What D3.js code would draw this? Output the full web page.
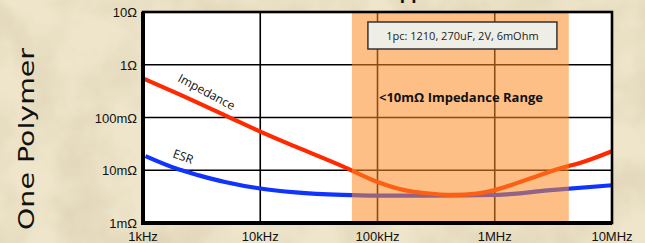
<!DOCTYPE html>
<html>
<head>
<meta charset="utf-8">
<script src="https://cdn.jsdelivr.net/npm/d3@7/dist/d3.min.js"></script>
<style>
  html, body { margin: 0; padding: 0; background: #ece2c7; }
  svg { display: block; }
</style>
</head>
<body>
<svg id="chart" width="645" height="243"></svg>
<script>
// frequencies (Hz) and values (Ohm)
const impFreq = [1e3, 2e3, 5e3, 1e4, 2e4, 5e4, 1e5, 1.7e5, 2.5e5, 4.4e5, 7e5, 1e6, 2e6, 3.3e6, 6e6, 1e7];
const impVals = [0.55, 0.28, 0.11, 0.054, 0.028, 0.012, 0.006, 0.0042, 0.0037, 0.0034, 0.0036, 0.0042, 0.007, 0.0102, 0.015, 0.023];
const esrFreq = [1.05e3, 2e3, 3e3, 5e3, 1e4, 2e4, 5e4, 1e5, 3e5, 1e6, 3e6, 1e7];
const esrVals = [0.0185, 0.0104, 0.008, 0.006, 0.0045, 0.0038, 0.0034, 0.0033, 0.0033, 0.0034, 0.0042, 0.0052];
const band = [6.05e4, 4.28e6];
const xTicks = [1e3, 1e4, 1e5, 1e6, 1e7];
const xTickLabels = ['1kHz', '10kHz', '100kHz', '1MHz', '10MHz'];
const yTicks = [1e-3, 1e-2, 1e-1, 1, 10];
const yTickLabels = ['1mΩ', '10mΩ', '100mΩ', '1Ω', '10Ω'];

const svg = d3.select('#chart');
const W = 645, H = 243;
const m = { left: 143, right: 33, top: 12, bottom: 20 };

// parchment background
const defs = svg.append('defs');
const f = defs.append('filter').attr('id', 'paper')
  .attr('x', 0).attr('y', 0).attr('width', '100%').attr('height', '100%');
f.append('feTurbulence').attr('type', 'fractalNoise')
  .attr('baseFrequency', 0.018).attr('numOctaves', 4).attr('seed', 7);
f.append('feColorMatrix').attr('type', 'matrix')
  .attr('values', '0 0 0 0 0.62  0 0 0 0 0.52  0 0 0 0 0.33  0 0 0 -1.6 1.05');
svg.append('rect').attr('width', W).attr('height', H).attr('fill', '#eee5cb');
svg.append('rect').attr('width', W).attr('height', H)
  .attr('filter', 'url(#paper)').attr('opacity', 0.5);

const x = d3.scaleLog().domain([1e3, 1e7]).range([m.left, W - m.right]);
const y = d3.scaleLog().domain([1e-3, 10]).range([H - m.bottom, m.top]);

// title, cut off by the top edge in the original
svg.append('text')
  .attr('x', 386).attr('y', -1)
  .attr('font-family', 'Liberation Sans, Arial, sans-serif')
  .attr('font-size', 19).attr('font-weight', 'bold')
  .attr('fill', '#111')
  .text('Application');

// plot area
svg.append('rect')
  .attr('x', m.left).attr('y', m.top)
  .attr('width', W - m.right - m.left).attr('height', H - m.bottom - m.top)
  .attr('fill', '#fff');

// grid
const grid = svg.append('g').attr('stroke', '#000').attr('stroke-width', 1.6);
grid.selectAll('.gx').data(xTicks).join('line')
  .attr('x1', d => x(d)).attr('x2', d => x(d))
  .attr('y1', m.top).attr('y2', H - m.bottom);
grid.selectAll('.gy').data(yTicks).join('line')
  .attr('x1', m.left).attr('x2', W - m.right)
  .attr('y1', d => y(d)).attr('y2', d => y(d));

// curves
const line = d3.line().curve(d3.curveMonotoneX);
const impPts = impFreq.map((fq, i) => [x(fq), y(impVals[i])]);
const esrPts = esrFreq.map((fq, i) => [x(fq), y(esrVals[i])]);
svg.append('path').attr('d', line(esrPts))
  .attr('fill', 'none').attr('stroke', '#1034ff').attr('stroke-width', 4.2);
svg.append('path').attr('d', line(impPts))
  .attr('fill', 'none').attr('stroke', '#ff2a00').attr('stroke-width', 4.2);

// highlighted range (semi-transparent, above the curves)
svg.append('rect')
  .attr('x', x(band[0])).attr('y', m.top)
  .attr('width', x(band[1]) - x(band[0])).attr('height', H - m.bottom - m.top)
  .attr('fill', '#fb8a22').attr('opacity', 0.55);

// border
svg.append('rect')
  .attr('x', m.left).attr('y', m.top)
  .attr('width', W - m.right - m.left).attr('height', H - m.bottom - m.top)
  .attr('fill', 'none').attr('stroke', '#000').attr('stroke-width', 2.6);
svg.append('path')
  .attr('d', `M${m.left},${m.top}V${H - m.bottom}H${W - m.right}`)
  .attr('fill', 'none').attr('stroke', '#000').attr('stroke-width', 4);

// axis labels
const tickFont = 'Liberation Sans, Arial, sans-serif';
svg.append('g').selectAll('text').data(yTicks).join('text')
  .attr('x', m.left - 6).attr('y', d => y(d) + 5)
  .attr('text-anchor', 'end')
  .attr('font-family', tickFont).attr('font-size', 13).attr('fill', '#111')
  .text((d, i) => yTickLabels[i]);
svg.append('g').selectAll('text').data(xTicks).join('text')
  .attr('x', d => x(d)).attr('y', H - 2)
  .attr('text-anchor', 'middle')
  .attr('font-family', tickFont).attr('font-size', 13).attr('fill', '#111')
  .text((d, i) => xTickLabels[i]);

// series labels
svg.append('text')
  .attr('transform', 'translate(177,81) rotate(28)')
  .attr('font-family', 'Open Sans, sans-serif').attr('font-size', 12).attr('fill', '#111')
  .text('Impedance');
svg.append('text')
  .attr('transform', 'translate(172,157) rotate(20)')
  .attr('font-family', 'Open Sans, sans-serif').attr('font-size', 12).attr('fill', '#111')
  .text('ESR');

// annotation box
const bx = x(band[0]) + 16, by = 22;
svg.append('rect')
  .attr('x', bx).attr('y', by).attr('width', 189).attr('height', 27)
  .attr('fill', '#efeee6').attr('stroke', '#333').attr('stroke-width', 1.5);
svg.append('text')
  .attr('x', bx + 94.5).attr('y', by + 18)
  .attr('text-anchor', 'middle')
  .attr('font-family', 'Open Sans, sans-serif').attr('font-size', 11).attr('fill', '#222')
  .text('1pc: 1210, 270uF, 2V, 6mOhm');

svg.append('text')
  .attr('x', 461).attr('y', 102)
  .attr('text-anchor', 'middle')
  .attr('font-family', 'Open Sans, sans-serif').attr('font-size', 13)
  .attr('font-weight', 'bold').attr('fill', '#111')
  .text('<10mΩ Impedance Range');

// y title
svg.append('text')
  .attr('transform', 'translate(34,139) rotate(-90)')
  .attr('text-anchor', 'middle')
  .attr('font-family', 'Segoe Print, cursive, DejaVu Sans')
  .attr('font-size', 22).attr('fill', '#111')
  .attr('textLength', 182).attr('lengthAdjust', 'spacingAndGlyphs')
  .text('One Polymer');
</script>
</body>
</html>
